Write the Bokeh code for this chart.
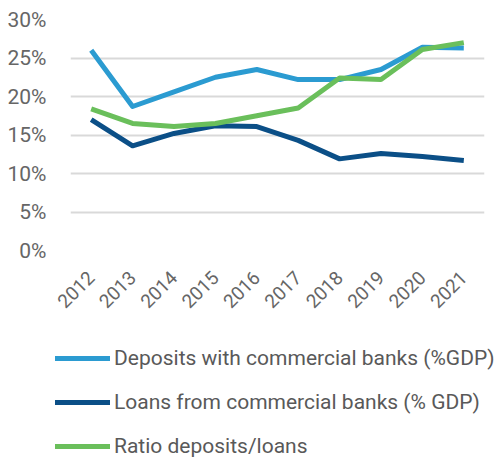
import math
from bokeh.plotting import figure
from bokeh.models import Legend, LegendItem, FixedTicker, Range1d
from bokeh.embed import file_html
from bokeh.resources import INLINE

years = ["2012", "2013", "2014", "2015", "2016", "2017", "2018", "2019", "2020", "2021"]
deposits = [26.0, 18.7, 20.6, 22.5, 23.5, 22.2, 22.2, 23.5, 26.4, 26.3]
loans = [17.0, 13.6, 15.2, 16.2, 16.1, 14.3, 11.9, 12.6, 12.2, 11.7]
ratio = [18.4, 16.5, 16.1, 16.5, 17.5, 18.5, 22.4, 22.2, 26.1, 27.0]
y_ticks = [0, 5, 10, 15, 20, 25, 30]
labels = ["Deposits with commercial banks (%GDP)",
          "Loans from commercial banks (% GDP)",
          "Ratio deposits/loans"]
colors = ["#2B9BD1", "#0B4F87", "#6ABF5B"]

p = figure(x_range=years, y_range=Range1d(0, 30), width=500, height=320,
           output_backend="svg", toolbar_location=None,
           min_border_left=70, min_border_right=16, min_border_top=19,
           min_border_bottom=70)
p.outline_line_color = None
p.background_fill_color = "white"
p.border_fill_color = "white"

for vals, c in zip([deposits, loans, ratio], colors):
    p.line(years, vals, line_color=c, line_width=5, line_join="round")

p.xgrid.grid_line_color = None
p.ygrid.grid_line_color = "#D9D9D9"
p.ygrid.grid_line_width = 2
p.yaxis.ticker = FixedTicker(ticks=y_ticks)
p.yaxis.major_label_overrides = {t: f"{t}%" for t in y_ticks}
for ax in (p.xaxis, p.yaxis):
    ax.axis_line_color = None
    ax.major_tick_line_color = None
    ax.minor_tick_line_color = None
    ax.major_label_text_font = "Roboto"
    ax.major_label_text_color = "#666666"
p.yaxis.major_label_text_font_size = "21px"
p.yaxis.major_label_standoff = 18
p.xaxis.major_label_text_font_size = "19px"
p.xaxis.major_label_orientation = math.pi / 4
p.xaxis.major_label_standoff = 18

# legend-only figure (NaN-data renderers carry the legend styles)
p2 = figure(width=500, height=141, output_backend="svg", toolbar_location=None,
            x_axis_type=None, y_axis_type=None,
            min_border_left=0, min_border_right=0, min_border_top=0, min_border_bottom=0)
p2.outline_line_color = None
p2.xgrid.grid_line_color = None
p2.ygrid.grid_line_color = None
items = []
for l, c in zip(labels, colors):
    r = p2.line(x=[float("nan")], y=[float("nan")], line_color=c, line_width=5, line_cap="round")
    items.append(LegendItem(label=l, renderers=[r]))

legend = Legend(items=items, location=(55, 1), orientation="vertical",
                label_text_font="Roboto", label_text_font_size="21px",
                label_text_color="#595959", glyph_width=55, glyph_height=28,
                label_height=28, spacing=16, padding=0, margin=0,
                border_line_color=None, background_fill_alpha=0, label_standoff=4)
p2.add_layout(legend, "center")

open("out.html", "w").write(file_html([p, p2], INLINE))
